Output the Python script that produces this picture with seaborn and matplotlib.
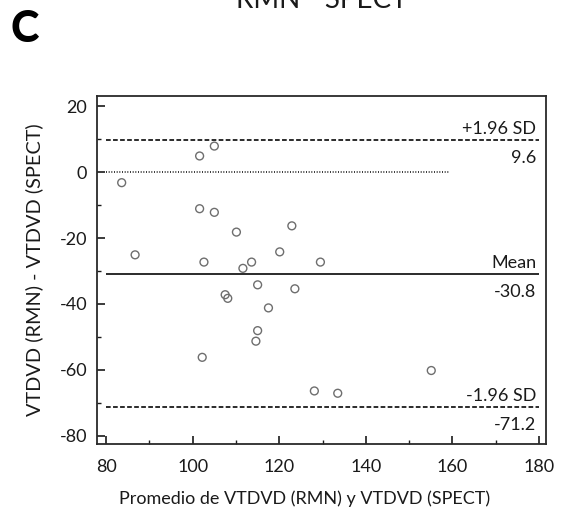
import matplotlib
matplotlib.use("Agg")
import matplotlib.pyplot as plt
from matplotlib.ticker import MultipleLocator
import seaborn as sns
import pandas as pd

# ---- data ----
promedio = [83.6, 101.6, 105.0, 101.6, 105.0, 110.1, 122.9, 86.7, 102.6, 120.1,
            113.6, 111.6, 129.5, 115.0, 123.6, 107.5, 108.1, 117.5, 115.0, 114.6,
            102.2, 128.1, 133.5, 155.1]
diferencia = [-3.2, 4.9, 7.9, -11.1, -12.2, -18.2, -16.3, -25.1, -27.3, -24.2,
              -27.3, -29.2, -27.3, -34.2, -35.4, -37.2, -38.3, -41.2, -48.1, -51.3,
              -56.2, -66.4, -67.1, -60.2]
line_values = [9.6, -30.8, -71.2]
line_names = ["+1.96 SD", "Mean", "-1.96 SD"]
line_value_labels = ["9.6", "-30.8", "-71.2"]
zero_value = 0
x_ticks = [80, 100, 120, 140, 160, 180]
y_ticks = [20, 0, -20, -40, -60, -80]

df = pd.DataFrame({"x": promedio, "y": diferencia})

sns.set_theme(style="ticks")
plt.rcParams["font.family"] = ["Lato", "DejaVu Sans"]
ink = "#1a1a1a"

fig = plt.figure(figsize=(5.64, 5.20), dpi=100)
ax = fig.add_axes([97 / 564, 1 - 444 / 520, (546 - 97) / 564, (444 - 96) / 520])

sns.scatterplot(data=df, x="x", y="y", ax=ax, marker="o", s=32,
                facecolor="none", edgecolor="#6e6e6e", linewidth=1.0, zorder=3)

# limit lines
styles = [(0, (2.6, 1.3)), "-", (0, (2.6, 1.3))]
for v, st in zip(line_values, styles):
    ax.hlines(v, 80, 180, colors=ink, linestyles=st, linewidth=1.3, zorder=2)
ax.hlines(zero_value, 80, 159.3, colors=ink, linestyles=(0, (0.6, 1.0)),
          linewidth=1.2, zorder=2)

for v, name, lab in zip(line_values, line_names, line_value_labels):
    ax.annotate(name, xy=(180, v), xytext=(-3, 3), textcoords="offset pixels",
                ha="right", va="bottom", fontsize=13, color=ink)
    ax.annotate(lab, xy=(180, v), xytext=(-3, -10), textcoords="offset pixels",
                ha="right", va="top", fontsize=13, color=ink)

ax.set_xlim(77.9, 181.6)
ax.set_ylim(-82.5, 23.1)
ax.set_xticks(x_ticks)
ax.set_yticks(y_ticks)
ax.set_xticklabels([str(t) for t in x_ticks])
ax.set_yticklabels([str(t) for t in y_ticks])
ax.xaxis.set_minor_locator(MultipleLocator(10))
ax.yaxis.set_minor_locator(MultipleLocator(10))
ax.tick_params(which="major", direction="in", length=6, width=1.2, color=ink,
               labelsize=13, labelcolor=ink, pad=7)
ax.tick_params(which="minor", direction="in", length=3, width=1.0, color=ink)
ax.tick_params(axis="x", which="major", pad=11)

for sp in ax.spines.values():
    sp.set_visible(True)
    sp.set_linewidth(1.3)
    sp.set_color("#2a2a2a")

ax.set_xlabel("Promedio de VTDVD (RMN) y VTDVD (SPECT)", fontsize=13,
              color=ink)
ax.xaxis.set_label_coords(0.462, -0.133)
ax.set_ylabel("VTDVD (RMN) - VTDVD (SPECT)", fontsize=14.3, color=ink, labelpad=12)

fig.text(11 / 564, 1 - 42 / 520, "C", fontsize=31, fontweight="black",
         color="black", ha="left", va="baseline")
fig.text(322 / 564, 1 - 8 / 520, "RMN - SPECT", fontsize=20, color=ink,
         ha="center", va="baseline")

fig.savefig("out.png", dpi=100)
